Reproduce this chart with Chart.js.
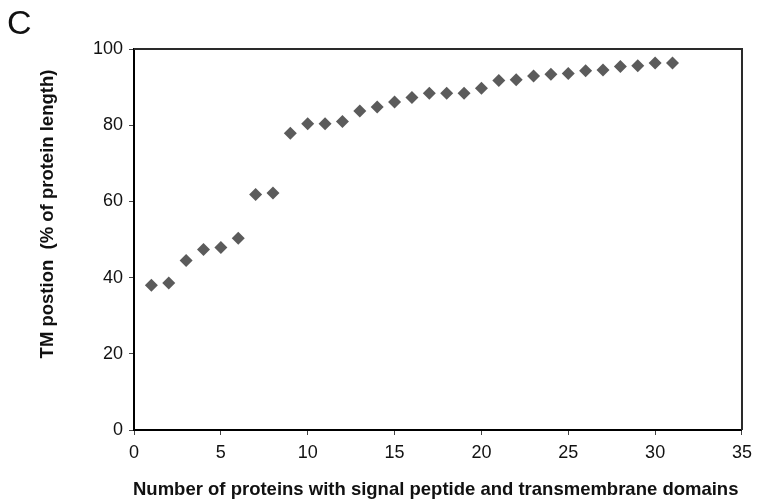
<!DOCTYPE html>
<html>
<head>
<meta charset="utf-8">
<script src="https://cdn.jsdelivr.net/npm/chart.js@4/dist/chart.umd.min.js"></script>
<style>
  html, body { margin: 0; padding: 0; background: #fff; }
  #wrap { width: 759px; height: 502px; position: relative; }
</style>
</head>
<body>
<div id="wrap"><canvas id="chart"></canvas></div>
<script>
const proteins = [1,2,3,4,5,6,7,8,9,10,11,12,13,14,15,16,17,18,19,20,21,22,23,24,25,26,27,28,29,30,31];
const tmPosition = [38.0,38.6,44.5,47.4,47.9,50.3,61.8,62.2,77.9,80.4,80.4,81.0,83.7,84.8,86.1,87.3,88.4,88.4,88.4,89.7,91.7,91.9,92.9,93.4,93.6,94.3,94.5,95.4,95.6,96.3,96.3];
const xTicks = [0,5,10,15,20,25,30,35];
const yTicks = [0,20,40,60,80,100];

const panelLabel = 'C';
const xTitle = 'Number of proteins with signal peptide and transmembrane domains';
const yTitle = 'TM postion  (% of protein length)';

const fontFam = '"Liberation Sans", Arial, Helvetica, sans-serif';

// frame + titles drawn by hand so they sit where the figure has them
const decorations = {
    id: 'decorations',
    beforeDatasetsDraw(chart) {
        const { ctx, chartArea: a } = chart;
        ctx.save();
        ctx.strokeStyle = '#2a2a2a';
        ctx.lineWidth = 2;
        ctx.beginPath();
        ctx.moveTo(a.left, a.top);
        ctx.lineTo(a.right, a.top);
        ctx.lineTo(a.right, a.bottom);
        ctx.stroke();
        ctx.restore();
    },
    afterDraw(chart) {
        const ctx = chart.ctx;
        ctx.save();
        ctx.fillStyle = '#111';
        ctx.textBaseline = 'middle';

        ctx.font = '34px ' + fontFam;
        ctx.textAlign = 'left';
        ctx.fillText(panelLabel, 7, 25);

        ctx.font = 'bold 18.5px ' + fontFam;
        ctx.textAlign = 'left';
        ctx.fillText(xTitle, 133, 490);

        ctx.textAlign = 'center';
        ctx.translate(48, 214);
        ctx.rotate(-Math.PI / 2);
        ctx.fillText(yTitle, 0, 0);
        ctx.restore();
    }
};

const ctx = document.getElementById('chart').getContext('2d');
new Chart(ctx, {
    type: 'scatter',
    data: {
        datasets: [{
            data: proteins.map((p, i) => ({ x: p, y: tmPosition[i] })),
            pointStyle: 'rectRot',
            pointRadius: 6.5,
            pointHoverRadius: 6.5,
            backgroundColor: '#5b5b5b',
            borderColor: '#5b5b5b',
            borderWidth: 0
        }]
    },
    options: {
        responsive: true,
        maintainAspectRatio: false,
        animation: false,
        layout: { padding: { top: 49, right: 15, left: 0, bottom: 0 } },
        plugins: {
            legend: { display: false },
            tooltip: { enabled: false }
        },
        scales: {
            x: {
                type: 'linear',
                min: 0,
                max: 35,
                afterBuildTicks: s => { s.ticks = xTicks.map(v => ({ value: v })); },
                afterFit: s => { s.height = 72; },
                grid: { display: true, drawOnChartArea: false, drawTicks: true, tickLength: 5, color: '#444' },
                border: { display: true, color: '#000', width: 2 },
                ticks: { color: '#111', padding: 7, maxRotation: 0, font: { family: fontFam, size: 18 } }
            },
            y: {
                min: 0,
                max: 100,
                afterBuildTicks: s => { s.ticks = yTicks.map(v => ({ value: v })); },
                afterFit: s => { s.width = 134; },
                grid: { display: true, drawOnChartArea: false, drawTicks: true, tickLength: 5, color: '#444' },
                border: { display: true, color: '#000', width: 2 },
                ticks: { color: '#111', padding: 6, font: { family: fontFam, size: 18 } }
            }
        }
    },
    plugins: [decorations]
});
</script>
</body>
</html>
